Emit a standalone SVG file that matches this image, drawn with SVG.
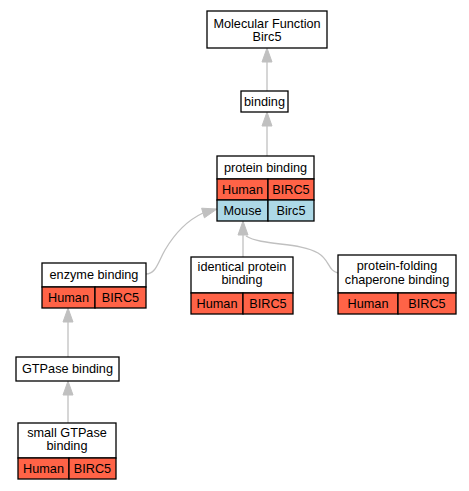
<svg xmlns="http://www.w3.org/2000/svg" width="469" height="491" viewBox="0 0 469 491">
<style>
text{font-family:"Liberation Sans",Arial,sans-serif;font-size:12.7px;fill:#000;text-anchor:middle}
.box{fill:#fff;stroke:#000;stroke-width:1.3}
.h{fill:#ff6347;stroke:#000;stroke-width:1.3}
.m{fill:#add8e6;stroke:#000;stroke-width:1.3}
.e{fill:none;stroke:#c0c0c0;stroke-width:1.3}
.a{fill:#c0c0c0;stroke:#c0c0c0;stroke-width:1}
</style>
<rect width="469" height="491" fill="#fff"/>
<g id="connectors">
<path class="e" d="M267,91 V62"/><polygon class="a" points="267,48 262,62 272,62"/>
<path class="e" d="M267,156 V126"/><polygon class="a" points="267,112 262,126 272,126"/>
<path class="e" d="M243,257 V235"/><polygon class="a" points="243,221 238,235 248,235"/>
<path class="e" d="M146,274 C156,274 158,262 165,250 C175,233 188,220 203,213"/><polygon class="a" points="217,209 201.6,208.2 204.4,217.8"/>
<path class="e" d="M338,273 C328,271 330,260 318,253 C300,242 262,246 246,236"/>
<path class="e" d="M68,357 V322"/><polygon class="a" points="68,308 63,322 73,322"/>
<path class="e" d="M68,423 V395"/><polygon class="a" points="68,381 63,395 73,395"/>
</g>
<g id="mf">
<rect class="box" x="207" y="11" width="120" height="37"/>
<text x="267" y="28">Molecular Function</text>
<text x="267" y="41">Birc5</text>
</g>
<g id="binding">
<rect class="box" x="241" y="91" width="47" height="21"/>
<text x="264.5" y="106">binding</text>
</g>
<g id="protein_binding">
<rect class="box" x="217" y="156" width="97" height="23"/>
<rect class="h" x="217" y="179" width="51" height="21"/>
<rect class="h" x="268" y="179" width="46" height="21"/>
<rect class="m" x="217" y="200" width="51" height="21"/>
<rect class="m" x="268" y="200" width="46" height="21"/>
<text x="265.5" y="172">protein binding</text>
<text x="242.5" y="194">Human</text>
<text x="291" y="194">BIRC5</text>
<text x="242.5" y="215">Mouse</text>
<text x="291" y="215">Birc5</text>
</g>
<g id="identical">
<rect class="box" x="191" y="257" width="102" height="36"/>
<rect class="h" x="191" y="293" width="52" height="21"/>
<rect class="h" x="243" y="293" width="50" height="21"/>
<text x="242" y="271">identical protein</text>
<text x="242" y="284">binding</text>
<text x="217" y="308">Human</text>
<text x="268" y="308">BIRC5</text>
</g>
<g id="enzyme">
<rect class="box" x="42" y="263" width="104" height="24"/>
<rect class="h" x="42" y="287" width="53" height="21"/>
<rect class="h" x="95" y="287" width="51" height="21"/>
<text x="94" y="279">enzyme binding</text>
<text x="68.5" y="302">Human</text>
<text x="120.5" y="302">BIRC5</text>
</g>
<g id="folding">
<rect class="box" x="338" y="255" width="118" height="38"/>
<rect class="h" x="338" y="293" width="60" height="21"/>
<rect class="h" x="398" y="293" width="58" height="21"/>
<text x="397" y="270">protein-folding</text>
<text x="397" y="284">chaperone binding</text>
<text x="368" y="308">Human</text>
<text x="427" y="308">BIRC5</text>
</g>
<g id="gtpase">
<rect class="box" x="16" y="357" width="103" height="24"/>
<text x="67.5" y="373">GTPase binding</text>
</g>
<g id="small_gtpase">
<rect class="box" x="18" y="423" width="98" height="35"/>
<rect class="h" x="18" y="458" width="51" height="21"/>
<rect class="h" x="69" y="458" width="47" height="21"/>
<text x="67" y="437">small GTPase</text>
<text x="67" y="450">binding</text>
<text x="43.5" y="473">Human</text>
<text x="92.5" y="473">BIRC5</text>
</g>
</svg>
